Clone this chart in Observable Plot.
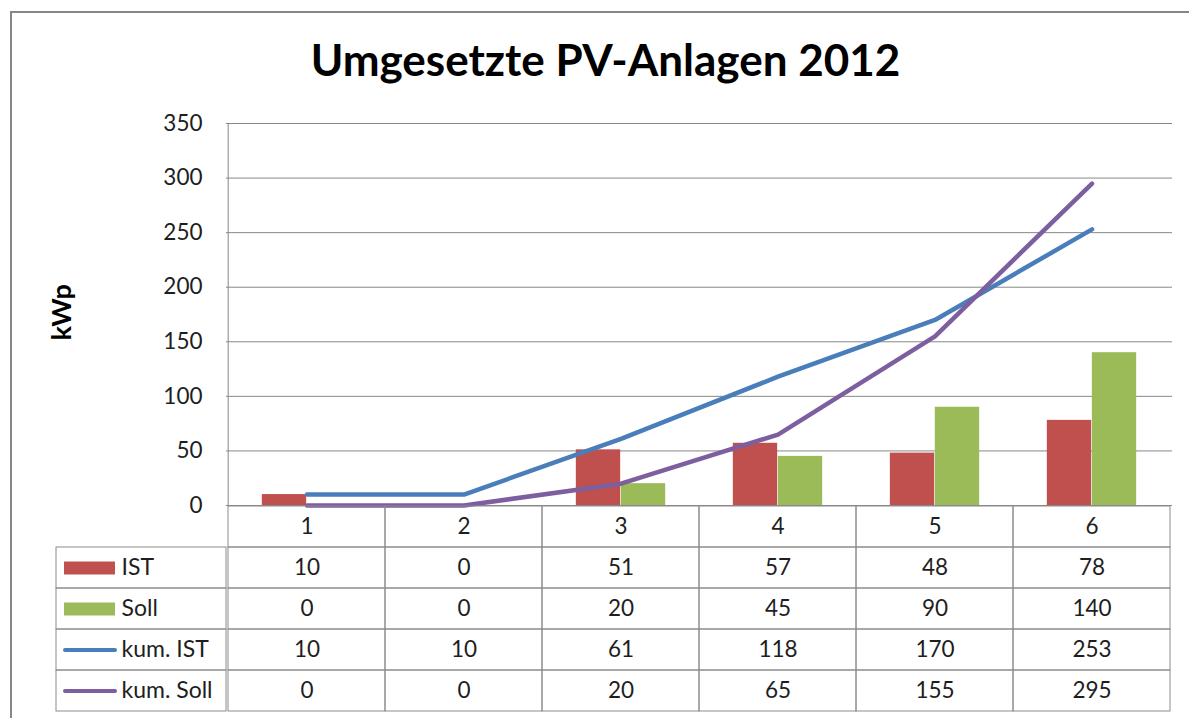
<!DOCTYPE html>
<html><head><meta charset="utf-8">
<script src="https://cdn.jsdelivr.net/npm/d3@7"></script>
<script src="https://cdn.jsdelivr.net/npm/@observablehq/plot@0.6"></script>
<style>
body{margin:0;background:#fff;width:1189px;height:718px;overflow:hidden;position:relative;font-family:Lato,sans-serif;}
#frame{position:absolute;left:10px;top:11px;width:1220px;height:740px;border:2px solid #878787;box-sizing:border-box;}
#title{position:absolute;left:0;width:1211px;top:37px;text-align:center;font-weight:bold;font-size:44px;font-family:Lato,sans-serif;line-height:44px;color:#000;white-space:nowrap;}
.p{position:absolute;}
</style></head><body>
<div id="frame"></div>
<div id="title">Umgesetzte PV-Anlagen 2012</div>
<div id="chart" class="p" style="left:0;top:100px"></div>
<div id="table" class="p" style="left:0;top:505px"></div>
<div id="legend" class="p" style="left:56px;top:505px"></div>
<script>
// ---- data ----
const cats = ["1", "2", "3", "4", "5", "6"];
const ist = [10, 0, 51, 57, 48, 78];
const soll = [0, 0, 20, 45, 90, 140];
const kumIst = [10, 10, 61, 118, 170, 253];
const kumSoll = [0, 0, 20, 65, 155, 295];
const seriesNames = ["IST", "Soll", "kum. IST", "kum. Soll"];
const yTicks = [0, 50, 100, 150, 200, 250, 300, 350];

// ---- styling ----
const colors = {"IST": "#C0504D", "Soll": "#9BBB59", "kum. IST": "#4A7EBB", "kum. Soll": "#7D5FA0"};
const gridColor = "#878787";
const tableColor = "#8c8c8c";
const textColor = "#1e1e1e";
const font = "Lato, sans-serif";
const fs = 22.5;

const seriesValues = {"IST": ist, "Soll": soll, "kum. IST": kumIst, "kum. Soll": kumSoll};
const rowsOf = name => cats.map((c, i) => ({cat: c, v: seriesValues[name][i], name}));

const W = 1189, L = 226, R = 17;
const bw = (W - L - R) / cats.length;
const barW = 45;

const chart = Plot.plot({
  width: W, height: 410, marginTop: 23, marginBottom: 5, marginLeft: L, marginRight: R,
  style: {background: "none", fontFamily: font, fontSize: fs + "px", color: "#000", overflow: "visible"},
  x: {type: "band", domain: cats, padding: 0, axis: null},
  y: {domain: [0, 350], axis: null},
  marks: [
    Plot.ruleY(yTicks, {stroke: gridColor, strokeWidth: 1}),
    Plot.ruleX([cats[0]], {x: d => d, dx: -bw / 2, stroke: gridColor}),
    Plot.text(yTicks, {y: d => d, text: d => String(d), frameAnchor: "left", textAnchor: "end", dx: -24, fontSize: fs, fill: textColor}),
    Plot.text(["kWp"], {text: d => d, frameAnchor: "left", dx: -164, dy: 26, rotate: -90, fontWeight: "bold", fontSize: 27, fill: "#000"}),
    Plot.barY(rowsOf("IST"), {x: "cat", y: "v", fill: colors["IST"], insetLeft: bw / 2 - barW, insetRight: bw / 2}),
    Plot.barY(rowsOf("Soll"), {x: "cat", y: "v", fill: colors["Soll"], insetLeft: bw / 2, insetRight: bw / 2 - barW}),
    Plot.line(rowsOf("kum. IST"), {x: "cat", y: "v", stroke: colors["kum. IST"], strokeWidth: 4.5, strokeLinecap: "round", strokeLinejoin: "round"}),
    Plot.line(rowsOf("kum. Soll"), {x: "cat", y: "v", stroke: colors["kum. Soll"], strokeWidth: 4.5, strokeLinecap: "round", strokeLinejoin: "round"})
  ]
});
document.getElementById("chart").appendChild(chart);

const rows = ["header", ...seriesNames];
const cellData = [];
cats.forEach((c, i) => {
  cellData.push({cat: c, row: "header", label: c});
  seriesNames.forEach(n => cellData.push({cat: c, row: n, label: String(seriesValues[n][i])}));
});

const table = Plot.plot({
  width: W, height: 213, marginTop: 0, marginBottom: 6, marginLeft: L, marginRight: R,
  style: {background: "none", fontFamily: font, fontSize: fs + "px", color: "#000", overflow: "visible"},
  x: {type: "band", domain: cats, padding: 0, axis: null},
  y: {type: "band", domain: rows, padding: 0, axis: null},
  marks: [
    Plot.cell(cellData, {x: "cat", y: "row", fill: "none", stroke: tableColor, inset: 0}),
    Plot.text(cellData, {x: "cat", y: "row", text: "label", fontSize: fs, fill: textColor})
  ]
});
document.getElementById("table").appendChild(table);

const legendRows = seriesNames.map(n => ({name: n, color: colors[n], kind: n.startsWith("kum") ? "line" : "bar"}));
const legend = Plot.plot({
  width: 170, height: 213, marginTop: 0, marginBottom: 6, marginLeft: 0, marginRight: 0,
  style: {background: "none", fontFamily: font, fontSize: fs + "px", color: "#000", overflow: "visible"},
  color: {type: "identity"},
  y: {type: "band", domain: rows, padding: 0, axis: null},
  marks: [
    Plot.cell(legendRows, {y: "name", fill: "none", stroke: tableColor, inset: 0}),
    Plot.ruleY(legendRows.filter(d => d.kind === "bar"), {y: "name", stroke: "color", strokeWidth: 13, insetLeft: 8, insetRight: 111}),
    Plot.ruleY(legendRows.filter(d => d.kind === "line"), {y: "name", stroke: "color", strokeWidth: 4, strokeLinecap: "round", insetLeft: 9, insetRight: 111}),
    Plot.text(legendRows, {y: "name", text: "name", frameAnchor: "left", dx: 65, textAnchor: "start", fontSize: 23, fill: textColor})
  ]
});
document.getElementById("legend").appendChild(legend);
</script>
</body></html>
